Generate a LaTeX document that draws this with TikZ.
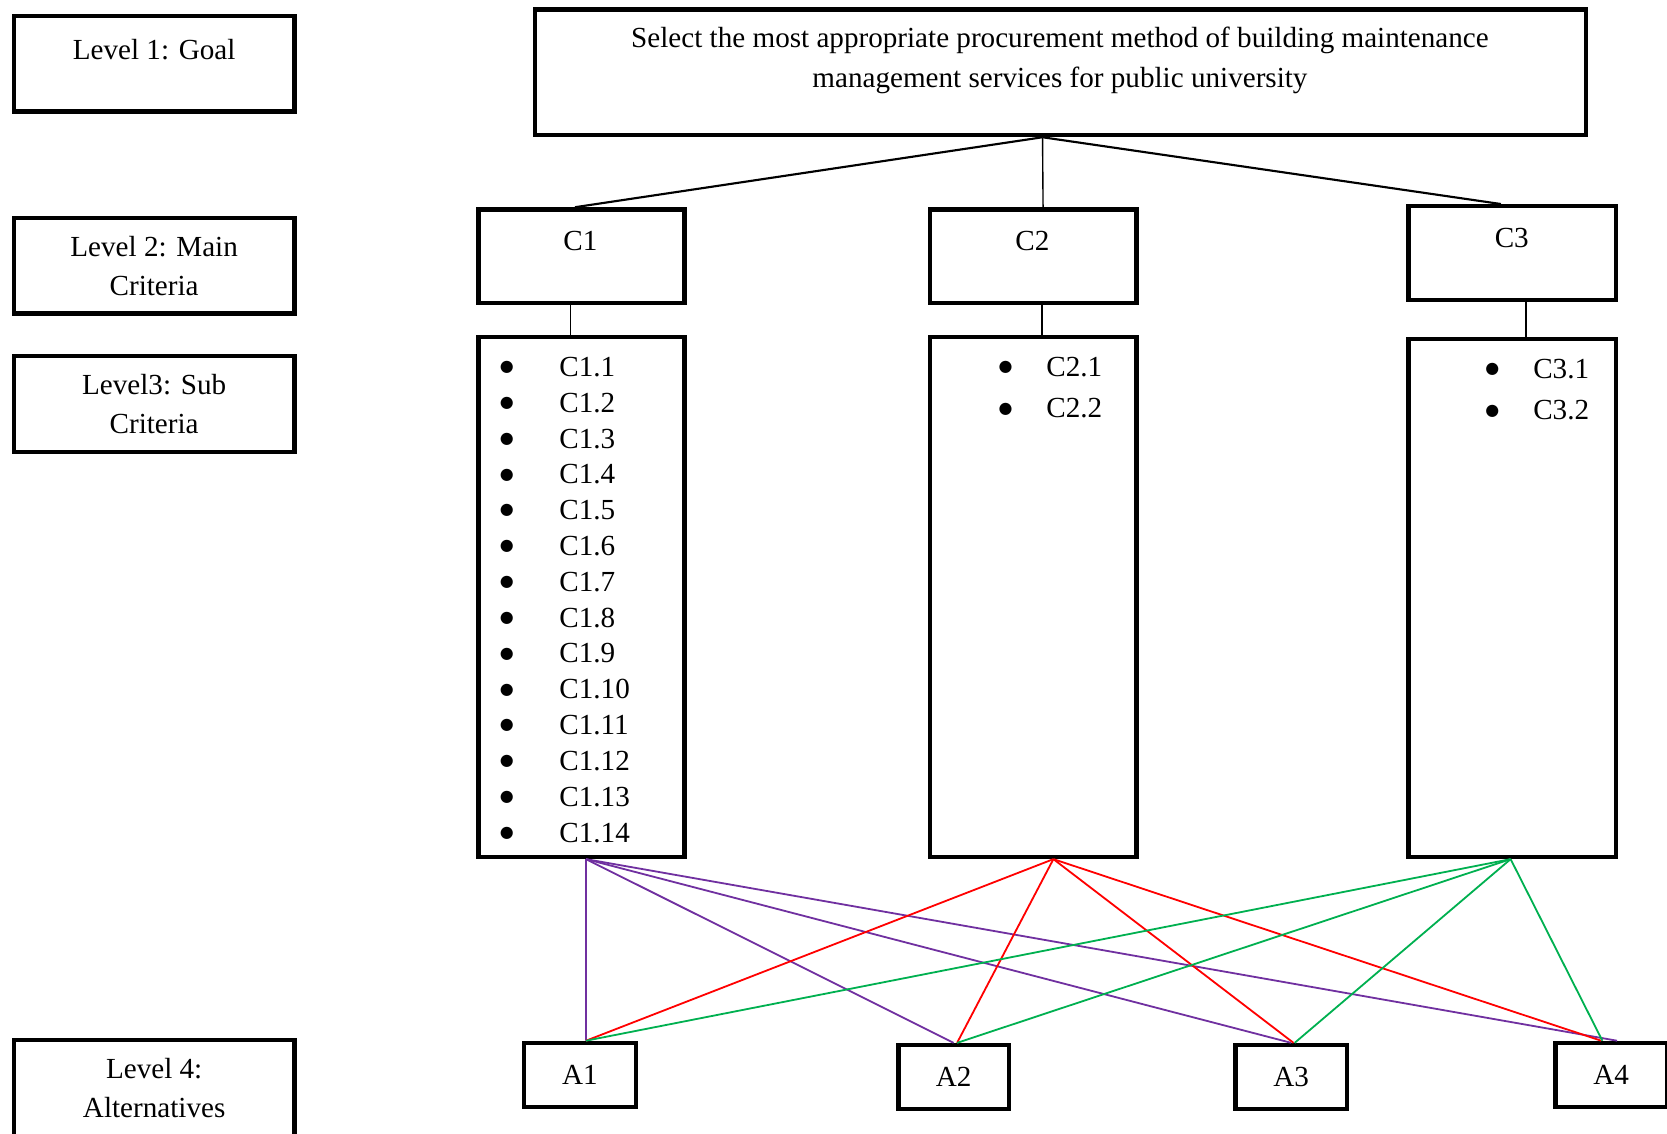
\documentclass[tikz,border=0pt]{standalone}
\usepackage{fontspec}
\setmainfont{Liberation Serif}
\newfontfamily\symfont{DejaVu Sans}
\usetikzlibrary{calc}
\definecolor{purp}{HTML}{7030A0}
\definecolor{redl}{HTML}{FF0000}
\definecolor{grn}{HTML}{00B050}
\newcommand{\bigbul}{\raisebox{4.5pt}{\symfont\fontsize{15}{15}\selectfont ●}}
\begin{document}
\begin{tikzpicture}[x=1pt,y=-1pt,
  box/.style 2 args={draw, line width=4.2pt, inner sep=0pt, minimum width=#1, minimum height=#2,
    font=\fontsize{27.4}{37}\selectfont},
  lbl/.style={font=\fontsize{27.4}{37}\selectfont, align=center, inner sep=0pt, anchor=base},
  itm/.style={font=\fontsize{27.4}{37}\selectfont, inner sep=0pt, anchor=base west},
  link/.style={line width=1.3pt},
  linkb/.style={line width=2pt},
  fan/.style={line width=1.7pt}]
\useasboundingbox (0,0) rectangle (1568,1066);

% level captions on the left (base anchor = baseline of the last line)
\node[box={264pt}{90pt}] (lev1) at (145,60) {};
\node[lbl] (lev1t) at (145,56) {Level 1: Goal};
\node[box={264pt}{90pt}] (lev2) at (145,250) {};
\node[lbl] (lev2t) at (145,278) {Level 2: Main\\Criteria};
\node[box={264pt}{90pt}] (lev3) at (145,380) {};
\node[lbl] (lev3t) at (145,408) {Level3: Sub\\Criteria};
\node[box={264pt}{100pt}] (lev4) at (145,1028) {};
\node[lbl] (lev4t) at (145,1051) {Level 4:\\Alternatives};

% goal
\node[box={989pt}{118pt}] (goal) at (997.5,68) {};
\node[lbl] (goalt) at (997,82) {Select the most appropriate procurement method of building maintenance\\management services for public university};

% main criteria
\node[box={194pt}{88pt}] (c1) at (547,241) {};
\node[lbl] (c1t) at (546,236) {C1};
\node[box={194pt}{88pt}] (c2) at (972,241) {};
\node[lbl] (c2t) at (971,236) {C2};
\node[box={195pt}{88pt}] (c3) at (1422.5,238) {};
\node[lbl] (c3t) at (1422,233) {C3};

% sub criteria boxes
\node[box={194pt}{489pt}] (s1) at (547,561.5) {};
\node[box={194pt}{489pt}] (s2) at (972,561.5) {};
\node[box={195pt}{487pt}] (s3) at (1422.5,562.5) {};

\foreach \i in {1,...,14}
  \node[itm] (c1-\i) at (470,{354+(\i-1)*33.7}) {\makebox[56pt][l]{\bigbul}C1.\i};
\foreach \i in {1,2}
  \node[itm] (c2-\i) at (939,{354+(\i-1)*39}) {\makebox[45pt][l]{\bigbul}C2.\i};
\foreach \i in {1,2}
  \node[itm] (c3-\i) at (1397,{356+(\i-1)*39}) {\makebox[45pt][l]{\bigbul}C3.\i};

% alternatives
\node[box={105pt}{60pt}] (a1) at (545.5,1011) {A1};
\node[box={104pt}{60pt}] (a2) at (897,1013) {A2};
\node[box={105pt}{60pt}] (a3) at (1214.5,1013) {A3};
\node[box={105pt}{60pt}] (a4) at (1515.5,1011) {A4};

% goal to main criteria
\coordinate (g0) at ($(goal.south west)!0.483!(goal.south east)$);
\draw[linkb] (g0) -- ($(c1.north west)!0.469!(c1.north east)$);
\draw[link] (g0) -- ($(c2.north west)!0.546!(c2.north east)$);
\draw[linkb] (g0) -- ($(c3.north west)!0.446!(c3.north east)$);

% main criteria to sub criteria
\draw[link] ($(c1.south west)!0.448!(c1.south east)$) -- ($(s1.north west)!0.448!(s1.north east)$);
\draw[link] ($(c2.south west)!0.541!(c2.south east)$) -- ($(s2.north west)!0.541!(s2.north east)$);
\draw[link] ($(c3.south west)!0.564!(c3.south east)$) -- ($(s3.north west)!0.564!(s3.north east)$);

% sub criteria to alternatives
\coordinate (s1b) at ($(s1.south west)!0.521!(s1.south east)$);
\coordinate (s2b) at ($(s2.south west)!0.595!(s2.south east)$);
\coordinate (s3b) at ($(s3.south west)!0.492!(s3.south east)$);
\foreach \t/\f in {a1/0.552, a2/0.5, a3/0.5, a4/0.55}
  \draw[fan, purp] (s1b) -- ($(\t.north west)!\f!(\t.north east)$);
\foreach \t/\f in {a1/0.552, a2/0.53, a3/0.52, a4/0.414}
  \draw[fan, redl] (s2b) -- ($(\t.north west)!\f!(\t.north east)$);
\foreach \t/\f in {a1/0.552, a2/0.53, a3/0.53, a4/0.424}
  \draw[fan, grn] (s3b) -- ($(\t.north west)!\f!(\t.north east)$);
\end{tikzpicture}
\end{document}
